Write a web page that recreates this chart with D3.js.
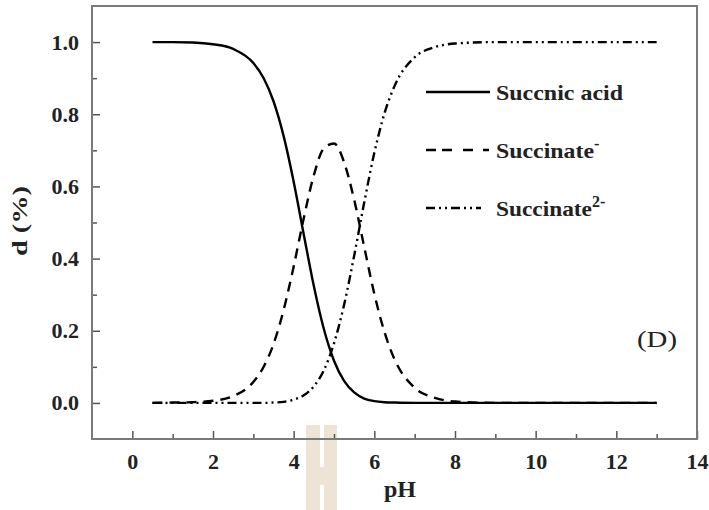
<!DOCTYPE html>
<html>
<head>
<meta charset="utf-8">
<script src="https://cdn.jsdelivr.net/npm/d3@7"></script>
<style>
  body { margin: 0; background: #fff; }
  svg text { font-family: "Liberation Serif", "Times New Roman", serif; }
</style>
</head>
<body>
<div id="chart"></div>
<script>
// values
const pH = [0.5, 1, 1.5, 2, 2.5, 3, 3.25, 3.5, 3.75, 4, 4.25, 4.5, 4.75, 5, 5.25, 5.5, 5.75, 6, 6.25, 6.5, 7, 7.5, 8, 9, 10, 11, 12, 13]
const acid = [1, 1, 0.999, 0.994, 0.981, 0.942, 0.901, 0.836, 0.740, 0.613, 0.467, 0.324, 0.204, 0.117, 0.061, 0.029, 0.012, 0.005, 0.002, 0.001, 0, 0, 0, 0, 0, 0, 0, 0]
const mono = [0, 0.001, 0.002, 0.006, 0.019, 0.058, 0.099, 0.163, 0.257, 0.378, 0.512, 0.631, 0.706, 0.719, 0.667, 0.563, 0.432, 0.302, 0.197, 0.121, 0.042, 0.014, 0.004, 0, 0, 0, 0, 0]
const di = [0, 0, 0, 0, 0, 0, 0, 0.001, 0.003, 0.009, 0.021, 0.046, 0.091, 0.165, 0.272, 0.408, 0.556, 0.693, 0.802, 0.878, 0.958, 0.986, 0.996, 1, 1, 1, 1, 1]

const xTicks = [0, 2, 4, 6, 8, 10, 12, 14]
const xMinor = [1, 3, 5, 7, 9, 11, 13]
const yTicks = [0, 0.2, 0.4, 0.6, 0.8, 1.0]
const yMinor = [0.1, 0.3, 0.5, 0.7, 0.9]

const W = 709, H = 510
const m = {left: 92, right: 12, top: 6, bottom: 71}
const w = W - m.left - m.right
const h = H - m.top - m.bottom

const svg = d3.select('#chart')
    .append('svg')
    .attr('width', W)
    .attr('height', H)

// beige mark below the axis
const mark = svg.append('g').attr('fill', '#ede4d5')
mark.append('rect').attr('x', 306).attr('y', 425).attr('width', 14).attr('height', 85)
mark.append('rect').attr('x', 324).attr('y', 425).attr('width', 13).attr('height', 85)
mark.append('rect').attr('x', 320).attr('y', 467).attr('width', 4).attr('height', 18)

const g = svg.append('g')
    .attr('transform', `translate(${m.left}, ${m.top})`)

// Scales
const x = d3.scaleLinear().domain([-1, 14]).range([0, w])
const y = d3.scaleLinear().domain([-0.1, 1.1]).range([h, 0])

// Axes
const axisColor = '#555'

function styleAxis(sel) {
    sel.select('.domain').remove()
    sel.selectAll('line').attr('stroke', axisColor).attr('stroke-width', 1.5)
    sel.selectAll('text')
        .attr('fill', '#222')
        .attr('font-size', '22px')
        .attr('font-weight', 'bold')
        .attr('font-family', '"Liberation Serif", serif')
}

g.append('g')
    .attr('transform', `translate(0, ${h})`)
    .call(d3.axisBottom(x).tickValues(xTicks).tickSize(-8).tickPadding(14).tickFormat(d3.format('d')))
    .call(styleAxis)

g.append('g')
    .attr('transform', `translate(0, ${h})`)
    .call(d3.axisBottom(x).tickValues(xMinor).tickSize(-5).tickFormat(''))
    .call(styleAxis)

g.append('g')
    .call(d3.axisLeft(y).tickValues(yTicks).tickSize(-8).tickPadding(13).tickFormat(d3.format('.1f')))
    .call(styleAxis)

g.append('g')
    .call(d3.axisLeft(y).tickValues(yMinor).tickSize(-5).tickFormat(''))
    .call(styleAxis)

// Frame
g.append('rect')
    .attr('width', w)
    .attr('height', h)
    .attr('fill', 'none')
    .attr('stroke', '#7a7a7a')
    .attr('stroke-width', 2)

// Curves
const series = [
    {name: 'acid', values: acid, dash: null},
    {name: 'mono', values: mono, dash: '10,7'},
    {name: 'di', values: di, dash: '9,4,2,4,2,4'}
]

const line = d3.line()
    .x(d => x(d[0]))
    .y(d => y(d[1]))
    .curve(d3.curveMonotoneX)

g.selectAll('path.curve')
    .data(series)
    .enter()
    .append('path')
    .attr('class', 'curve')
    .attr('d', s => line(pH.map((p, i) => [p, s.values[i]])))
    .attr('fill', 'none')
    .attr('stroke', '#000')
    .attr('stroke-width', 2.4)
    .attr('stroke-dasharray', s => s.dash)

// Legend
const legend = svg.append('g').attr('font-weight', 'bold').attr('font-size', '22px')
const rows = [
    {y: 92, dash: null, label: 'Succnic acid', len: 127, sup: null, x2: 490},
    {y: 150, dash: '10,6,10,11,10', label: 'Succinate', len: 98, sup: '-', x2: 491},
    {y: 208, dash: '9,4,2,4,2,4', label: 'Succinate', len: 96, sup: '2-', x2: 481}
]
rows.forEach(r => {
    legend.append('line')
        .attr('x1', 426).attr('x2', r.x2)
        .attr('y1', r.y).attr('y2', r.y)
        .attr('stroke', '#000')
        .attr('stroke-width', 2.4)
        .attr('stroke-dasharray', r.dash)
    const t = legend.append('text')
        .attr('x', 496)
        .attr('y', r.y + 8)
        .attr('fill', '#222')
    t.append('tspan')
        .attr('textLength', r.len)
        .attr('lengthAdjust', 'spacingAndGlyphs')
        .text(r.label)
    if (r.sup) {
        t.append('tspan')
            .attr('font-size', '16px')
            .attr('dy', -9)
            .text(r.sup)
    }
})

// Labels
svg.append('text')
    .attr('x', 400)
    .attr('y', 497)
    .attr('text-anchor', 'middle')
    .attr('font-size', '24px')
    .attr('font-weight', 'bold')
    .attr('fill', '#222')
    .text('pH')

svg.append('text')
    .attr('transform', 'translate(27, 221) rotate(-90)')
    .attr('text-anchor', 'middle')
    .attr('font-size', '22px')
    .attr('font-weight', 'bold')
    .attr('fill', '#222')
    .attr('textLength', 70)
    .attr('lengthAdjust', 'spacingAndGlyphs')
    .text('d (%)')

svg.append('text')
    .attr('x', 657)
    .attr('y', 347)
    .attr('text-anchor', 'middle')
    .attr('font-size', '23px')
    .attr('fill', '#222')
    .attr('textLength', 40)
    .attr('lengthAdjust', 'spacingAndGlyphs')
    .text('(D)')
</script>
</body>
</html>
